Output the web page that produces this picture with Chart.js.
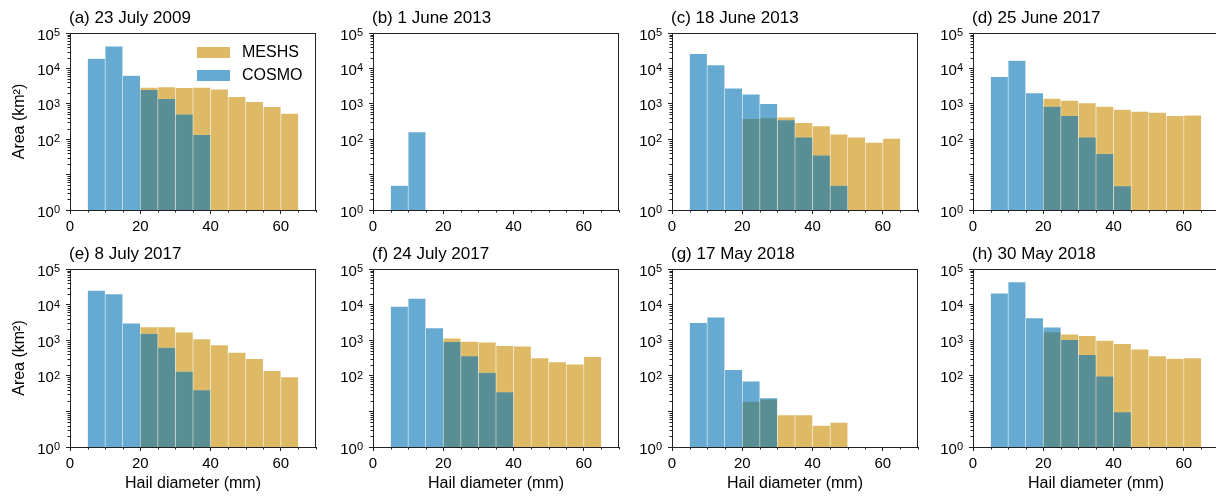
<!DOCTYPE html>
<html>
<head>
<meta charset="utf-8">
<script src="https://cdn.jsdelivr.net/npm/chart.js@4.4.1/dist/chart.umd.min.js"></script>
<style>
  html, body { margin: 0; padding: 0; background: #fff; overflow: hidden; width: 1216px; height: 497px; }
  canvas { position: absolute; }
</style>
</head>
<body>
<script>
// bins are 5 mm wide, centres from 7.5 to 62.5 mm
const binCenters = [7.5, 12.5, 17.5, 22.5, 27.5, 32.5, 37.5, 42.5, 47.5, 52.5, 57.5, 62.5];
const seriesNames = ['MESHS', 'COSMO'];
const panelTitles = ['(a) 23 July 2009', '(b) 1 June 2013', '(c) 18 June 2013', '(d) 25 June 2017',
                     '(e) 8 July 2017', '(f) 24 July 2017', '(g) 17 May 2018', '(h) 30 May 2018'];

// area (km2) per bin, null = empty bin
const meshsA = [null, null, null, 2900, 3000, 2850, 2900, 2600, 1590, 1140, 830, 535];
const cosmoA = [19000, 42000, 6300, 2500, 1380, 510, 133, null, null, null, null, null];
const meshsB = [null, null, null, null, null, null, null, null, null, null, null, null];
const cosmoB = [4.9, 160, null, null, null, null, null, null, null, null, null, null];
const meshsC = [null, null, null, 380, 400, 415, 294, 236, 138, 114, 81, 105];
const cosmoC = [26000, 12400, 2750, 1870, 1000, 347, 114, 35, 4.9, null, null, null];
const meshsD = [null, null, null, 1410, 1250, 1050, 835, 690, 610, 570, 460, 475];
const cosmoD = [5800, 16700, 2030, 845, 460, 114, 39, 4.8, null, null, null, null];
const meshsE = [null, null, null, 2360, 2360, 1670, 1090, 735, 455, 303, 138, 92];
const cosmoE = [25000, 20000, 3000, 1540, 620, 133, 40, null, null, null, null, null];
const meshsF = [null, null, null, 1130, 925, 870, 700, 680, 318, 246, 212, 345];
const cosmoF = [8900, 14900, 2220, 900, 360, 123, 35, null, null, null, null, null];
const meshsG = [null, null, null, 19, 22, 7.9, 7.9, 4.0, 4.9, null, null, null];
const cosmoG = [3100, 4400, 148, 70, 24, null, null, null, null, null, null, null];
const meshsH = [null, null, null, 1700, 1470, 1330, 980, 790, 560, 360, 305, 315];
const cosmoH = [21000, 43000, 4200, 2300, 1030, 390, 98, 9.7, null, null, null, null];

const meshsAll = [meshsA, meshsB, meshsC, meshsD, meshsE, meshsF, meshsG, meshsH];
const cosmoAll = [cosmoA, cosmoB, cosmoC, cosmoD, cosmoE, cosmoF, cosmoG, cosmoH];

const xTickValues = [0, 20, 40, 60];
const yTickValues = [1, 10, 100, 1000, 10000, 100000];
// y labels are 10 with a raised exponent, '' = unlabelled tick
const yTickExponents = ['0', '', '2', '3', '4', '5'];

const meshsColor = 'rgba(200,140,0,0.6)';
const cosmoColor = 'rgba(0,114,178,0.6)';
const axisColor = '#222';
const FONT = "'Liberation Sans', Arial, Helvetica, sans-serif";
Chart.defaults.font.family = FONT;
Chart.defaults.color = '#000';

// layout of the 2 x 4 grid
const colLeft = [70, 373, 672, 973];
const rowTop = [33, 269];
const plotW = 246;
const plotH = [177, 178];
const yAxisW = 70;
const topPad = 33;

function toPoints(vals) {
  const pts = [];
  vals.forEach((v, i) => { if (v !== null) pts.push({ x: binCenters[i], y: v }); });
  return pts;
}

// frame, minor ticks, y labels with exponent, panel title and (panel a) legend
const extras = {
  id: 'extras',
  afterDraw(chart, args, opts) {
    const ctx = chart.ctx;
    const a = chart.chartArea;
    const xs = chart.scales.x, ys = chart.scales.y;
    ctx.save();
    ctx.strokeStyle = axisColor;
    ctx.lineWidth = 1;
    ctx.beginPath();
    ctx.moveTo(a.left, Math.round(a.top) + 0.5);
    ctx.lineTo(a.right, Math.round(a.top) + 0.5);
    ctx.moveTo(Math.round(a.right) - 0.5, a.top);
    ctx.lineTo(Math.round(a.right) - 0.5, a.bottom);
    for (let v = 5; v <= 70; v += 5) {
      if (v % 20 === 0) continue;
      const px = Math.round(xs.getPixelForValue(v)) + 0.5;
      ctx.moveTo(px, a.bottom);
      ctx.lineTo(px, a.bottom + 2.5);
    }
    for (let k = 0; k < 5; k++) {
      for (let m = 2; m <= 9; m++) {
        const py = Math.round(ys.getPixelForValue(m * Math.pow(10, k))) + 0.5;
        ctx.moveTo(a.left, py);
        ctx.lineTo(a.left - 2.5, py);
      }
    }
    ctx.stroke();

    ctx.fillStyle = '#000';
    ctx.textAlign = 'right';
    ctx.textBaseline = 'alphabetic';
    yTickValues.forEach((v, k) => {
      const e = yTickExponents[k];
      if (!e) return;
      const py = ys.getPixelForValue(v);
      const xr = a.left - 10;
      ctx.font = '11px ' + FONT;
      const ew = ctx.measureText(e).width;
      ctx.fillText(e, xr, py + 3);
      ctx.font = '15px ' + FONT;
      ctx.fillText('10', xr - ew, py + 6.5);
    });

    ctx.font = '17px ' + FONT;
    ctx.textAlign = 'left';
    ctx.fillText(opts.title, a.left - 1, a.top - 10);

    if (opts.legend) {
      const ds = chart.data.datasets;
      ctx.font = '16px ' + FONT;
      ctx.textBaseline = 'middle';
      ds.forEach((d, j) => {
        const by = a.top + 14 + j * 23;
        ctx.fillStyle = d.backgroundColor;
        ctx.fillRect(a.left + 127, by, 33, 11);
        ctx.fillStyle = '#000';
        ctx.fillText(d.label, a.left + 172, by + 6);
      });
    }
    ctx.restore();
  }
};

for (let i = 0; i < 8; i++) {
  const col = i % 4, row = Math.floor(i / 4);
  const xAxisH = row === 0 ? 26 : 50;
  const canvas = document.createElement('canvas');
  canvas.width = yAxisW + plotW + 4;
  canvas.height = topPad + plotH[row] + xAxisH;
  canvas.style.left = (colLeft[col] - yAxisW) + 'px';
  canvas.style.top = (rowTop[row] - topPad) + 'px';
  document.body.appendChild(canvas);

  new Chart(canvas, {
    type: 'bar',
    data: {
      datasets: [
        { label: seriesNames[0], data: toPoints(meshsAll[i]), backgroundColor: meshsColor,
          borderColor: 'rgba(255,255,255,0.12)', borderWidth: 0.6, order: 1 },
        { label: seriesNames[1], data: toPoints(cosmoAll[i]), backgroundColor: cosmoColor,
          borderColor: 'rgba(255,255,255,0.12)', borderWidth: 0.6, order: 0 }
      ]
    },
    options: {
      responsive: false,
      animation: false,
      devicePixelRatio: 1,
      layout: { padding: { top: topPad, right: 4, left: 0, bottom: 0 } },
      datasets: { bar: { grouped: false, barPercentage: 1, categoryPercentage: 1 } },
      plugins: {
        legend: { display: false },
        tooltip: { enabled: false },
        extras: { title: panelTitles[i], legend: i === 0 }
      },
      scales: {
        x: {
          type: 'linear', min: 0, max: 70, offset: false,
          grid: { offset: false, drawOnChartArea: false, tickLength: 4, tickColor: axisColor },
          border: { color: axisColor, width: 1 },
          ticks: { font: { size: 15 }, padding: 4, maxRotation: 0, autoSkip: false },
          afterBuildTicks: s => { s.ticks = xTickValues.map(v => ({ value: v })); },
          title: { display: row === 1, text: 'Hail diameter (mm)', font: { size: 16 }, padding: { top: 0, bottom: 4 } },
          afterFit: s => { s.height = xAxisH; }
        },
        y: {
          type: 'logarithmic', min: 1, max: 100000,
          grid: { drawOnChartArea: false, tickLength: 4, tickColor: axisColor },
          border: { color: axisColor, width: 1 },
          ticks: { display: false },
          afterBuildTicks: s => { s.ticks = yTickValues.map(v => ({ value: v })); },
          title: { display: col === 0, text: 'Area (km²)', font: { size: 16 }, padding: { top: 10, bottom: 0 } },
          afterFit: s => { s.width = yAxisW; }
        }
      }
    },
    plugins: [extras]
  });
}
</script>
</body>
</html>
